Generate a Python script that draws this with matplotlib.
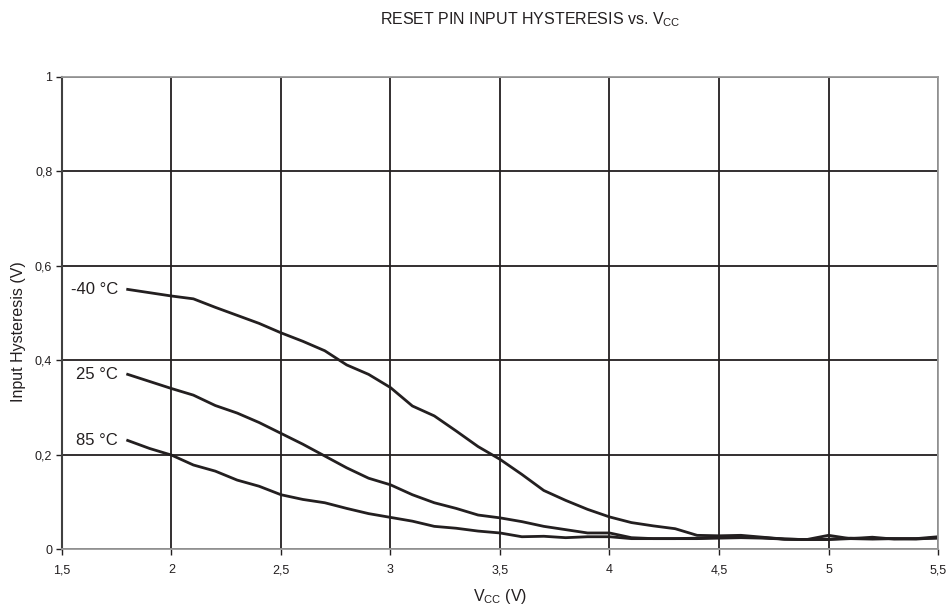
import numpy as np
import matplotlib.pyplot as plt

plt.rcParams['font.family'] = ['Liberation Sans', 'DejaVu Sans']
plt.rcParams['mathtext.fontset'] = 'custom'
plt.rcParams['mathtext.rm'] = 'Liberation Sans'

vcc = [1.8, 1.9, 2.0, 2.1, 2.2, 2.3, 2.4, 2.5, 2.6, 2.7, 2.8, 2.9, 3.0, 3.1, 3.2,
       3.3, 3.4, 3.5, 3.6, 3.7, 3.8, 3.9, 4.0, 4.1, 4.2, 4.3, 4.4, 4.5, 4.6, 4.7,
       4.8, 4.9, 5.0, 5.1, 5.2, 5.3, 5.4, 5.5]
hyst_m40 = [0.550, 0.543, 0.536, 0.530, 0.512, 0.495, 0.478, 0.458, 0.440, 0.420,
            0.390, 0.370, 0.342, 0.303, 0.282, 0.250, 0.217, 0.190, 0.158, 0.124,
            0.103, 0.084, 0.068, 0.056, 0.049, 0.043, 0.029, 0.028, 0.029, 0.025,
            0.021, 0.020, 0.029, 0.022, 0.025, 0.021, 0.022, 0.026]
hyst_25 = [0.370, 0.355, 0.340, 0.326, 0.304, 0.288, 0.268, 0.245, 0.222, 0.197,
           0.172, 0.150, 0.136, 0.115, 0.098, 0.086, 0.072, 0.066, 0.058, 0.048,
           0.041, 0.034, 0.034, 0.024, 0.022, 0.022, 0.023, 0.025, 0.026, 0.024,
           0.021, 0.020, 0.021, 0.023, 0.022, 0.022, 0.021, 0.024]
hyst_85 = [0.230, 0.213, 0.199, 0.178, 0.165, 0.146, 0.133, 0.115, 0.105, 0.098,
           0.086, 0.075, 0.067, 0.059, 0.048, 0.044, 0.038, 0.034, 0.026, 0.027,
           0.024, 0.026, 0.026, 0.022, 0.022, 0.022, 0.022, 0.023, 0.024, 0.023,
           0.021, 0.020, 0.020, 0.022, 0.021, 0.022, 0.022, 0.023]
labels = ['-40 °C', '25 °C', '85 °C']

xticks = [1.5, 2, 2.5, 3, 3.5, 4, 4.5, 5, 5.5]
yticks = [0, 0.2, 0.4, 0.6, 0.8, 1.0]

fig = plt.figure(figsize=(9.52, 6.09), dpi=100)
ax = fig.add_axes([0.0651, 0.0985, 0.9202, 0.7751])

line_col = '#231f20'
for ys, lab in zip([hyst_m40, hyst_25, hyst_85], labels):
    ax.plot(vcc, ys, color=line_col, lw=2.0, solid_joinstyle='round')
    ax.text(vcc[0] - 0.045, ys[0], lab, ha='right', va='center', fontsize=12,
            color='#231f20')

ax.set_xlim(1.5, 5.5)
ax.set_ylim(0, 1)
ax.set_xticks(xticks)
ax.set_yticks(yticks)
ax.set_xticklabels([f"{t:g}".replace('.', ',') for t in xticks])
ax.set_yticklabels([f"{t:g}".replace('.', ',') for t in yticks])
ax.tick_params(labelsize=9, colors='#231f20', length=4, width=1, direction='out')
ax.tick_params(axis='x', pad=7)
ax.tick_params(axis='y', pad=3)
ax.grid(True, color='#231f20', lw=1.3)
ax.set_axisbelow(True)

for s in ['top', 'right', 'bottom']:
    ax.spines[s].set_color('#9a9a9a')
    ax.spines[s].set_linewidth(1.3)
ax.spines['left'].set_color('#404040')
ax.spines['left'].set_linewidth(1.5)

fig.text(500 / 952, 1 - 597 / 609, 'V$_{\\mathrm{CC}}$ (V)', ha='center', va='center',
         fontsize=11.5, color='#231f20')
fig.text(19 / 952, 1 - 332 / 609, 'Input Hysteresis (V)', ha='center', va='center',
         rotation=90, fontsize=11.5, color='#231f20')
fig.text(0.557, 1 - 20 / 609, 'RESET PIN INPUT HYSTERESIS vs. V$_{\\mathrm{CC}}$',
         ha='center', va='center', fontsize=11.5, color='#231f20')

plt.savefig('out.png', dpi=100)
